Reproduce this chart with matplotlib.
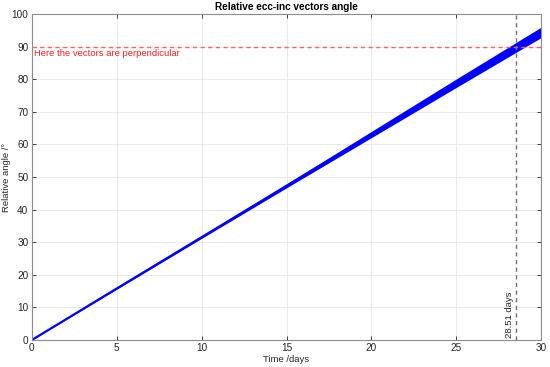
import matplotlib
matplotlib.use('Agg')
import matplotlib.pyplot as plt

plt.rcParams['font.family'] = ['Liberation Sans', 'DejaVu Sans']

# ---- data ----
time_days = [0, 5, 10, 15, 20, 25, 30]
angle_upper = [0.0, 16.0, 31.9, 47.9, 64.0, 80.1, 96.0]
angle_lower = [0.0, 15.6, 31.2, 46.7, 62.1, 77.5, 92.8]
angle_mid = [0.0, 15.8, 31.55, 47.3, 63.05, 78.8, 94.4]

perp_angle = 90
perp_time = 28.51

x_ticks = [0, 5, 10, 15, 20, 25, 30]
y_ticks = [0, 10, 20, 30, 40, 50, 60, 70, 80, 90, 100]

fig = plt.figure(figsize=(5.5, 3.67), dpi=100)
ax = fig.add_axes([0.058, 0.0736, 0.926, 0.888])

ax.fill_between(time_days, angle_lower, angle_upper, color='#0000ff', lw=0)
ax.plot(time_days, angle_mid, color='#0000ff', lw=1.6)

ax.axhline(perp_angle, color='#ff6060', lw=1.0, ls=(0, (3, 2.5)))
ax.text(0.15, perp_angle - 0.8, 'Here the vectors are perpendicular',
        color='#ff2020', fontsize=6.8, va='top', ha='left')

ax.axvline(perp_time, color='#707070', lw=1.0, ls=(0, (3, 2.5)))
ax.text(perp_time - 0.12, 0.5, f'{perp_time:.2f} days', rotation=90,
        color='#262626', fontsize=6.8, ha='right', va='bottom')

ax.set_xlim(0, 30)
ax.set_ylim(0, 100)
ax.set_xticks(x_ticks)
ax.set_yticks(y_ticks)
ax.grid(True, color='#e6e6e6', lw=0.6)
ax.set_axisbelow(True)

ax.tick_params(direction='in', top=True, right=True, length=3, pad=2.5,
               labelsize=7.2, colors='#262626', width=0.6)
for sp in ax.spines.values():
    sp.set_color('#8c8c8c')
    sp.set_linewidth(0.8)

ax.set_title('Relative ecc-inc vectors angle', fontsize=7.2, fontweight='bold',
             color='black', pad=3)
ax.set_xlabel('Time /days', fontsize=6.8, color='#262626', labelpad=1)
ax.set_ylabel('Relative angle /°', fontsize=6.8, color='#262626')
ax.yaxis.set_label_coords(-0.041, 0.5)

fig.savefig('out.png', dpi=100, facecolor='white')
